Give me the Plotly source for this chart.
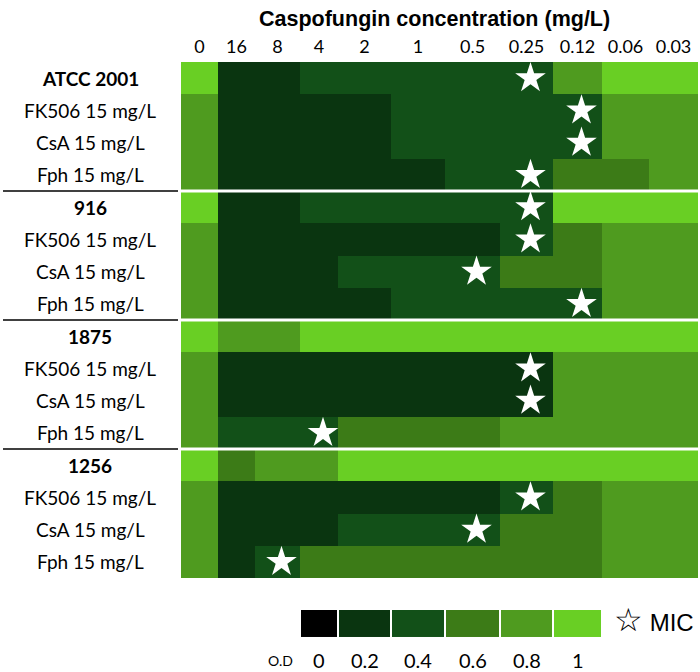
import numpy as np
import plotly.graph_objects as go

# caspofungin concentrations (mg/L), column order as in the figure
concentrations = ["0", "16", "8", "4", "2", "1", "0.5", "0.25", "0.12", "0.06", "0.03"]

row_labels = [
    "ATCC 2001", "FK506 15 mg/L", "CsA 15 mg/L", "Fph 15 mg/L",
    "916", "FK506 15 mg/L", "CsA 15 mg/L", "Fph 15 mg/L",
    "1875", "FK506 15 mg/L", "CsA 15 mg/L", "Fph 15 mg/L",
    "1256", "FK506 15 mg/L", "CsA 15 mg/L", "Fph 15 mg/L",
]
strains = ["ATCC 2001", "916", "1875", "1256"]

# optical density (binned) per row
od_atcc = [1, .2, .2, .4, .4, .4, .4, .4, .8, 1, 1]
od_atcc_fk = [.8, .2, .2, .2, .2, .4, .4, .4, .4, .8, .8]
od_atcc_csa = [.8, .2, .2, .2, .2, .4, .4, .4, .4, .8, .8]
od_atcc_fph = [.8, .2, .2, .2, .2, .2, .4, .4, .6, .6, .8]
od_916 = [1, .2, .2, .4, .4, .4, .4, .4, 1, 1, 1]
od_916_fk = [.8, .2, .2, .2, .2, .2, .2, .4, .6, .8, .8]
od_916_csa = [.8, .2, .2, .2, .4, .4, .4, .6, .6, .8, .8]
od_916_fph = [.8, .2, .2, .2, .2, .4, .4, .4, .4, .8, .8]
od_1875 = [1, .8, .8, 1, 1, 1, 1, 1, 1, 1, 1]
od_1875_fk = [.8, .2, .2, .2, .2, .2, .2, .2, .8, .8, .8]
od_1875_csa = [.8, .2, .2, .2, .2, .2, .2, .2, .8, .8, .8]
od_1875_fph = [.8, .4, .4, .4, .6, .6, .6, .8, .8, .8, .8]
od_1256 = [1, .6, .8, .8, 1, 1, 1, 1, 1, 1, 1]
od_1256_fk = [.8, .2, .2, .2, .2, .2, .2, .4, .6, .8, .8]
od_1256_csa = [.8, .2, .2, .2, .4, .4, .4, .6, .6, .8, .8]
od_1256_fph = [.8, .2, .4, .6, .6, .6, .6, .6, .6, .8, .8]

od_rows = [od_atcc, od_atcc_fk, od_atcc_csa, od_atcc_fph,
           od_916, od_916_fk, od_916_csa, od_916_fph,
           od_1875, od_1875_fk, od_1875_csa, od_1875_fph,
           od_1256, od_1256_fk, od_1256_csa, od_1256_fph]

# MIC per row (None = no MIC marked)
mic = ["0.25", "0.12", "0.12", "0.25",
       "0.25", "0.25", "0.5", "0.12",
       None, "0.25", "0.25", "4",
       None, "0.25", "0.5", "8"]

legend_levels = [0, 0.2, 0.4, 0.6, 0.8, 1]
legend_labels = ["0", "0.2", "0.4", "0.6", "0.8", "1"]

# ---- styling ----
level_colors = ["#000000", "#0a3510", "#125018", "#3c7b17", "#4f9b1f", "#69cf24"]
col_widths = [37, 37, 45, 38, 53, 54, 55, 53, 49, 47, 49]   # relative widths as drawn
label_font = "Lato"

edges = np.concatenate([[0], np.cumsum(col_widths)])
centers = (edges[:-1] + edges[1:]) / 2

cscale = []
bounds = [0, 0.1, 0.3, 0.5, 0.7, 0.9, 1]
for i, c in enumerate(level_colors):
    cscale.append([bounds[i], c])
    cscale.append([bounds[i + 1], c])

n_rows = len(row_labels)
rows = list(range(n_rows))

fig = go.Figure()
fig.add_trace(go.Heatmap(
    z=od_rows, x=edges, y=rows, colorscale=cscale, zmin=0, zmax=1,
    showscale=False, hoverinfo="skip", xaxis="x", yaxis="y"))

# MIC stars
star_x, star_y = [], []
for r, m in enumerate(mic):
    if m is not None:
        star_x.append(centers[concentrations.index(m)] + 4)
        star_y.append(r)
fig.add_trace(go.Scatter(
    x=star_x, y=star_y, mode="markers", hoverinfo="skip", showlegend=False,
    marker=dict(symbol="star", size=23, color="white", line=dict(width=0)),
    xaxis="x", yaxis="y"))

# colour key, drawn under columns "4" .. "0.12"
k0 = concentrations.index("4")
key_edges = edges[k0:k0 + len(legend_levels) + 1]
fig.add_trace(go.Heatmap(
    z=[legend_levels], x=key_edges, y=[0], colorscale=cscale, zmin=0, zmax=1,
    xgap=2, showscale=False, hoverinfo="skip", xaxis="x", yaxis="y2"))

plot_w = edges[-1]
annotations = []
for r, lab in enumerate(row_labels):
    bold = lab in strains
    annotations.append(dict(
        x=-91 / plot_w, xref="paper", y=r, yref="y", xanchor="center",
        text=f"<b>{lab}</b>" if bold else lab, showarrow=False,
        font=dict(family=label_font, size=19, color="black")))

for i, lab in enumerate(legend_labels):
    annotations.append(dict(
        x=centers[k0 + i], xref="x", y=-0.04, yref="paper", yanchor="middle",
        text=lab, showarrow=False, font=dict(family=label_font, size=20, color="black")))
annotations.append(dict(
    x=(266 - 181) / plot_w, xref="paper", y=-0.04, yref="paper", yanchor="middle",
    showarrow=False, text="O.D", font=dict(family=label_font, size=14, color="black")))
annotations.append(dict(
    x=edges[k0 + len(legend_levels)] + 10, xref="x", xanchor="left",
    y=0.03, yref="paper", yanchor="middle", showarrow=False,
    text="<span style='font-size:32px'>☆</span> MIC",
    font=dict(family="Liberation Sans", size=24, color="black")))
annotations.append(dict(
    x=(434 - 181) / plot_w, xref="paper", y=1.075, yref="paper", yanchor="middle",
    text="<b>Caspofungin concentration (mg/L)</b>", showarrow=False,
    font=dict(family="Liberation Sans", size=21.5, color="black")))

shapes = []
for b in [3.5, 7.5, 11.5]:
    shapes.append(dict(type="line", xref="x", yref="y", x0=0, x1=plot_w, y0=b, y1=b,
                       line=dict(color="white", width=3)))
    shapes.append(dict(type="line", xref="paper", yref="y", x0=-178 / plot_w, x1=-3 / plot_w,
                       y0=b, y1=b, line=dict(color="black", width=1.5)))

fig.update_layout(
    width=700, height=672,
    margin=dict(l=181, r=2, t=62, b=35),
    paper_bgcolor="white", plot_bgcolor="white",
    showlegend=False,
    xaxis=dict(range=[0, plot_w], side="top", tickmode="array", tickvals=centers,
               ticktext=concentrations, ticks="", showgrid=False, zeroline=False,
               ticklabelstandoff=4,
               tickfont=dict(family=label_font, size=18, color="black"), fixedrange=True),
    yaxis=dict(domain=[0.1026, 1], range=[n_rows - 0.5, -0.5], showticklabels=False,
               showgrid=False, zeroline=False, fixedrange=True),
    yaxis2=dict(domain=[0, 0.047], range=[-0.5, 0.5], showticklabels=False,
                showgrid=False, zeroline=False, fixedrange=True),
    annotations=annotations, shapes=shapes,
)

fig.write_html("out.html", config={"displayModeBar": False},
               post_script="document.body.style.margin='0px';")
